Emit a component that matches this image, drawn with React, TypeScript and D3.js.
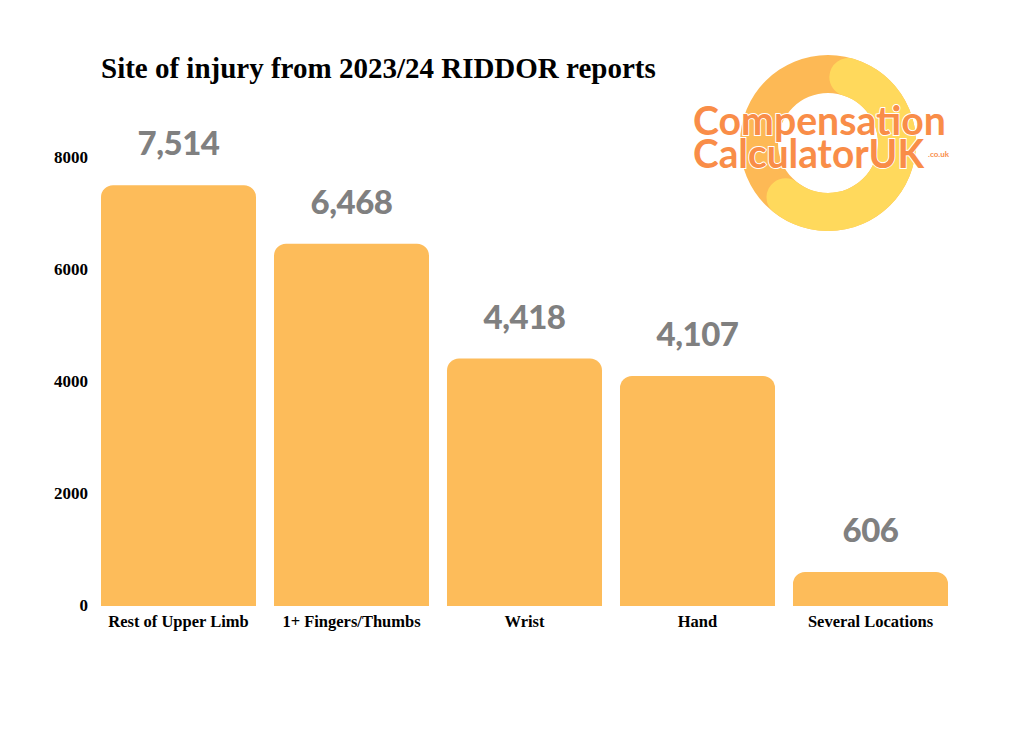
import * as d3 from "d3";
import { useEffect, useRef } from "react";
import * as React from "react";

// chart data
const categories = [
  "Rest of Upper Limb",
  "1+ Fingers/Thumbs",
  "Wrist",
  "Hand",
  "Several Locations",
];
const injuries = [7514, 6468, 4418, 4107, 606];
const yTicks = [0, 2000, 4000, 6000, 8000];
const chartTitle = "Site of injury from 2023/24 RIDDOR reports";

const App: React.FC = () => {
  const ref = useRef<SVGSVGElement | null>(null);

  useEffect(() => {
    const svg = d3.select(ref.current);
    svg.selectAll("*").remove();

    const width = 1024;
    const height = 729;

    svg.append("rect").attr("width", width).attr("height", height).attr("fill", "#fff");

    // Scales
    const x = d3
      .scaleBand<string>()
      .domain(categories)
      .range([92, 957])
      .paddingInner(0.104)
      .paddingOuter(0.052);
    const y = d3.scaleLinear().domain([0, 8000]).range([606, 158]);

    // Title
    svg
      .append("text")
      .attr("x", 101)
      .attr("y", 78)
      .attr("font-family", "Liberation Serif, serif")
      .attr("font-weight", 700)
      .attr("font-size", 29)
      .attr("fill", "#000")
      .text(chartTitle);

    // Logo
    const logo = svg.append("g").attr("transform", "translate(828,143)");
    const ring = d3.arc<any>().innerRadius(50).outerRadius(88);
    logo
      .append("path")
      .attr("d", ring({ startAngle: 0, endAngle: Math.PI * 2 }) as string)
      .attr("fill", "#FDB955");
    logo
      .append("path")
      .attr(
        "d",
        d3.arc<any>().innerRadius(50).outerRadius(88).cornerRadius(19)({
          startAngle: 0.02,
          endAngle: Math.PI * 1.3,
        }) as string
      )
      .attr("fill", "#FFD95C");

    const logoText = svg
      .append("g")
      .attr("font-family", "Lato, sans-serif")
      .attr("font-weight", 700)
      .attr("fill", "#F98D48")
      .attr("stroke", "#fff")
      .attr("stroke-width", 2)
      .attr("paint-order", "stroke");
    logoText
      .append("text")
      .attr("x", 693)
      .attr("y", 135)
      .attr("font-size", 41)
      .attr("textLength", 253)
      .attr("lengthAdjust", "spacingAndGlyphs")
      .text("Compensation");
    logoText
      .append("text")
      .attr("x", 693)
      .attr("y", 168)
      .attr("font-size", 41)
      .attr("textLength", 231)
      .attr("lengthAdjust", "spacingAndGlyphs")
      .text("CalculatorUK");
    logoText
      .append("text")
      .attr("x", 928)
      .attr("y", 157)
      .attr("font-size", 8)
      .attr("stroke-width", 0)
      .text(".co.uk");

    // Y axis labels
    svg
      .append("g")
      .selectAll("text")
      .data(yTicks)
      .enter()
      .append("text")
      .attr("x", 88)
      .attr("y", (d) => y(d) + 5)
      .attr("text-anchor", "end")
      .attr("font-family", "Liberation Serif, serif")
      .attr("font-weight", 700)
      .attr("font-size", 17)
      .text((d) => d);

    // Bars
    const r = 12;
    svg
      .append("g")
      .selectAll("path")
      .data(injuries)
      .enter()
      .append("path")
      .attr("d", (d, i) => {
        const x0 = x(categories[i]) as number;
        const w = x.bandwidth();
        const top = y(d);
        const h = y(0) - top;
        const rr = Math.min(r, h);
        return `M${x0},${y(0)} V${top + rr} a${rr},${rr} 0 0 1 ${rr},${-rr} h${w - 2 * rr} a${rr},${rr} 0 0 1 ${rr},${rr} V${y(0)} Z`;
      })
      .attr("fill", "#FDBC5A");

    // Value labels
    svg
      .append("g")
      .selectAll("text")
      .data(injuries)
      .enter()
      .append("text")
      .attr("x", (d, i) => (x(categories[i]) as number) + x.bandwidth() / 2)
      .attr("y", (d) => y(d) - 30)
      .attr("text-anchor", "middle")
      .attr("font-family", "Lato, sans-serif")
      .attr("font-weight", 900)
      .attr("font-size", 33)
      .attr("letter-spacing", -0.5)
      .attr("fill", "#808080")
      .text((d) => d3.format(",")(d));

    // Category labels
    svg
      .append("g")
      .selectAll("text")
      .data(categories)
      .enter()
      .append("text")
      .attr("x", (d) => (x(d) as number) + x.bandwidth() / 2)
      .attr("y", 627)
      .attr("text-anchor", "middle")
      .attr("font-family", "Liberation Serif, serif")
      .attr("font-weight", 700)
      .attr("font-size", 16.5)
      .text((d) => d);
  });

  return (
    <svg
      ref={ref}
      width={1024}
      height={729}
      style={{ position: "absolute", left: 0, top: 0 }}
    />
  );
};

export default App;
